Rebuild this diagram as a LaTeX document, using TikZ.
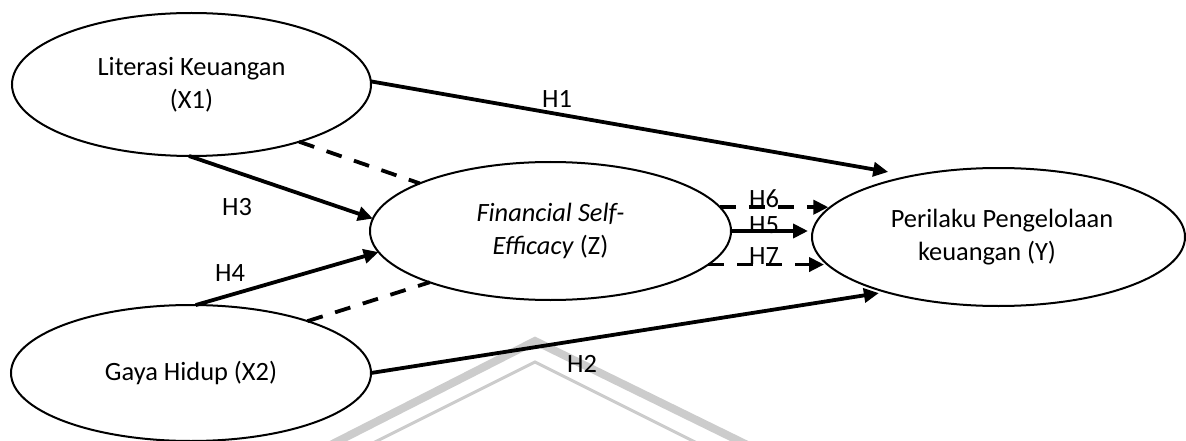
\documentclass[tikz,border=0pt]{standalone}
\usepackage{fontspec}
\setmainfont{Carlito}
\usetikzlibrary{arrows.meta,shapes.geometric}
\begin{document}
\begin{tikzpicture}[x=1pt,y=-1pt,
  var/.style={ellipse, draw, line width=2pt, fill=white, inner sep=0pt, outer sep=0pt,
    align=center, font=\fontsize{26.4}{33}\selectfont},
  hyp/.style={font=\fontsize{26.4}{33}\selectfont, inner sep=0pt},
  arr/.style={line width=3.8pt, -{Triangle[length=15pt,width=14pt]}},
  dsh/.style={line width=3.8pt, dash pattern=on 16pt off 13pt},
  dsharr/.style={dsh, -{Triangle[length=15pt,width=14pt]}},
  wm/.style={draw=black!20, line cap=butt, line join=miter}
]
\useasboundingbox (0,0) rectangle (1186,441);
% watermark
\draw[wm, line width=8pt] (301,460) -- (535,341) -- (778,460);
\draw[wm, line width=3pt] (339,460) -- (535,362) -- (731,460);
% variables
\node[var, minimum width=359pt, minimum height=143pt] (X1) at (191.5,84.5) {Literasi Keuangan\\(X1)};
\node[var, minimum width=361pt, minimum height=138pt] (Z) at (550.5,231) {\textit{Financial Self-}\\\textit{Efficacy} (Z)};
\node[var, minimum width=373pt, minimum height=138pt] (Y) at (998.5,237) {\hspace*{7pt}Perilaku Pengelolaan\\keuangan (Y)\hspace*{23pt}\null};
\node[var, minimum width=360pt, minimum height=136pt] (X2) at (191,373) {Gaya Hidup (X2)};
% connectors
\draw[arr, shorten >=23.5pt] (X1.1.75) -- (Y.145.4);
\draw[arr] (X1.-92.8) -- (Z.176);
\draw[dsh] (X1.-28.8) -- (Z.160.9);
\draw[arr] (X2.86.6) -- (Z.187);
\draw[dsh] (X2.24) -- (Z.203.3);
\draw[arr, shorten >=7pt] (X2.east) -- (Y.206.7);
\draw[dsharr, shorten >=5pt] (Z.8.07) -- (Z.8.07 -| Y.169.9);
\draw[arr, shorten >=4pt] (Z.-0.7) -- (Z.-0.7 -| Y.west);
\draw[dsharr, shorten >=3pt] (Z.-12.2) -- (Z.-12.2 -| Y.189.3);
% labels
\node[hyp] (h1) at (557,99) {H1};
\node[hyp] (h3) at (237,207) {H3};
\node[hyp] (h4) at (230,273) {H4};
\node[hyp] (h2) at (582,364) {H2};
\node[hyp] (h6) at (764,198.5) {H6};
\node[hyp] (h5) at (764,225.5) {H5};
\node[hyp] (h7) at (764,256.5) {H7};
\end{tikzpicture}
\end{document}
